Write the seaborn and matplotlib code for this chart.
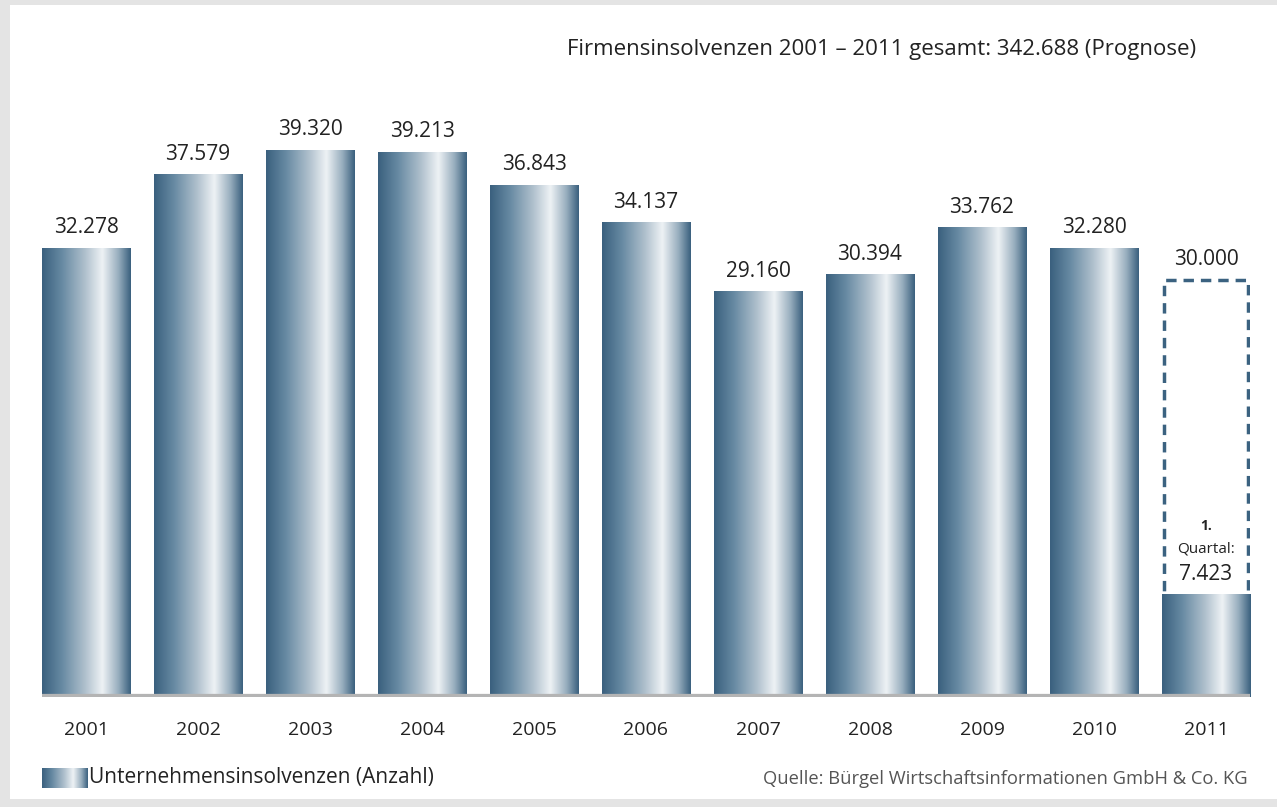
import numpy as np
import pandas as pd
import matplotlib
matplotlib.use("Agg")
import matplotlib.pyplot as plt
import seaborn as sns
from matplotlib.colors import LinearSegmentedColormap
from matplotlib.patches import Rectangle

years = ["2001", "2002", "2003", "2004", "2005", "2006", "2007", "2008", "2009", "2010", "2011"]
values = [32278, 37579, 39320, 39213, 36843, 34137, 29160, 30394, 33762, 32280, 7423]
labels = ["32.278", "37.579", "39.320", "39.213", "36.843", "34.137", "29.160", "30.394", "33.762", "32.280", "7.423"]
forecast_2011 = 30000
forecast_label = "30.000"
title = "Firmensinsolvenzen 2001 – 2011 gesamt: 342.688 (Prognose)"
legend_label = "Unternehmensinsolvenzen (Anzahl)"
source = "Quelle: Bürgel Wirtschaftsinformationen GmbH & Co. KG"

sns.set_theme(style="white")
plt.rcParams['font.family'] = ['Open Sans', 'DejaVu Sans']

W, H = 1277, 807
fig = plt.figure(figsize=(W / 100, H / 100), dpi=100)
fig.patch.set_facecolor("#e4e4e4")
# white inner panel
bg = fig.add_axes([10 / W, 1 - 799 / H, 1 - 10 / W, (799 - 5) / H], zorder=-10)
bg.set_facecolor("white")
bg.set_xticks([]); bg.set_yticks([])
for s in bg.spines.values():
    s.set_visible(False)

# axes placement: bars span x 42..1250, baseline y=697, top y~99
ax_left, ax_right = 42, 1250
ax_bottom, ax_top = 697, 99
ax = fig.add_axes([ax_left / W, 1 - ax_bottom / H, (ax_right - ax_left) / W, (ax_bottom - ax_top) / H])
ax.set_facecolor("none")

bw = 0.786
df = pd.DataFrame({"year": years, "value": values})
sns.barplot(data=df, x="year", y="value", ax=ax, width=bw, color="#5b7f99",
            saturation=1, edgecolor="none", zorder=2)

cmap = LinearSegmentedColormap.from_list("steel", [
    (0.0, "#3a607e"), (0.22, "#6689a2"), (0.48, "#aebfcc"),
    (0.68, "#eef2f5"), (0.86, "#98aebe"), (1.0, "#3a607e")])
grad = np.linspace(0, 1, 256).reshape(1, -1)
for p in list(ax.patches):
    x0, y0 = p.get_x(), p.get_y()
    w, h = p.get_width(), p.get_height()
    im = ax.imshow(grad, cmap=cmap, aspect="auto", extent=[x0, x0 + w, y0, y0 + h],
                   zorder=3, interpolation="bicubic")
    im.set_clip_path(p)

ax.set_xlim(-bw / 2, len(years) - 1 + bw / 2)
ax.set_ylim(0, 43000)

# forecast dashed box for 2011
i11 = len(years) - 1
ax.add_patch(Rectangle((i11 - bw / 2 + 0.02, 0), bw - 0.04, forecast_2011, fill=False,
                       edgecolor="#3b6280", linewidth=2.5, linestyle=(0, (3, 2)), zorder=2.5))

# value labels
for i, (v, lab) in enumerate(zip(values, labels)):
    if i == i11:
        continue
    ax.text(i, v + 700, lab, ha="center", va="bottom", fontsize=15, color="#222222")
ax.text(i11, forecast_2011 + 700, forecast_label, ha="center", va="bottom", fontsize=15, color="#222222")
ax.text(i11, values[i11] + 600, labels[i11], ha="center", va="bottom", fontsize=15, color="#222222")
ax.text(i11, values[i11] + 3250, "Quartal:", ha="center", va="center", fontsize=11, color="#222222")
ax.text(i11, values[i11] + 4900, "1.", ha="center", va="center", fontsize=10, color="#222222",
        fontweight="bold")

# baseline
ax.axhline(0, color="#b4b4b4", linewidth=4.5, zorder=5)

sns.despine(ax=ax, left=True, bottom=True)
ax.set_yticks([])
ax.set_xlabel("")
ax.set_ylabel("")
ax.tick_params(axis="x", length=0, pad=17, labelsize=14, labelcolor="#222222")

# title
fig.text(1196 / W, 1 - 50 / H, title, ha="right", va="center", fontsize=16, color="#222222")

# legend swatch
lax = fig.add_axes([42 / W, 1 - 788 / H, 46 / W, 20 / H])
lax.imshow(grad, cmap=cmap, aspect="auto", interpolation="bicubic")
lax.axis("off")
fig.text(89 / W, 1 - 778 / H, legend_label, ha="left", va="center", fontsize=15, color="#222222")

# source
fig.text(1248 / W, 1 - 779 / H, source, ha="right", va="center", fontsize=13.2, color="#555555")

fig.savefig("out.png", dpi=100, facecolor=fig.get_facecolor())
